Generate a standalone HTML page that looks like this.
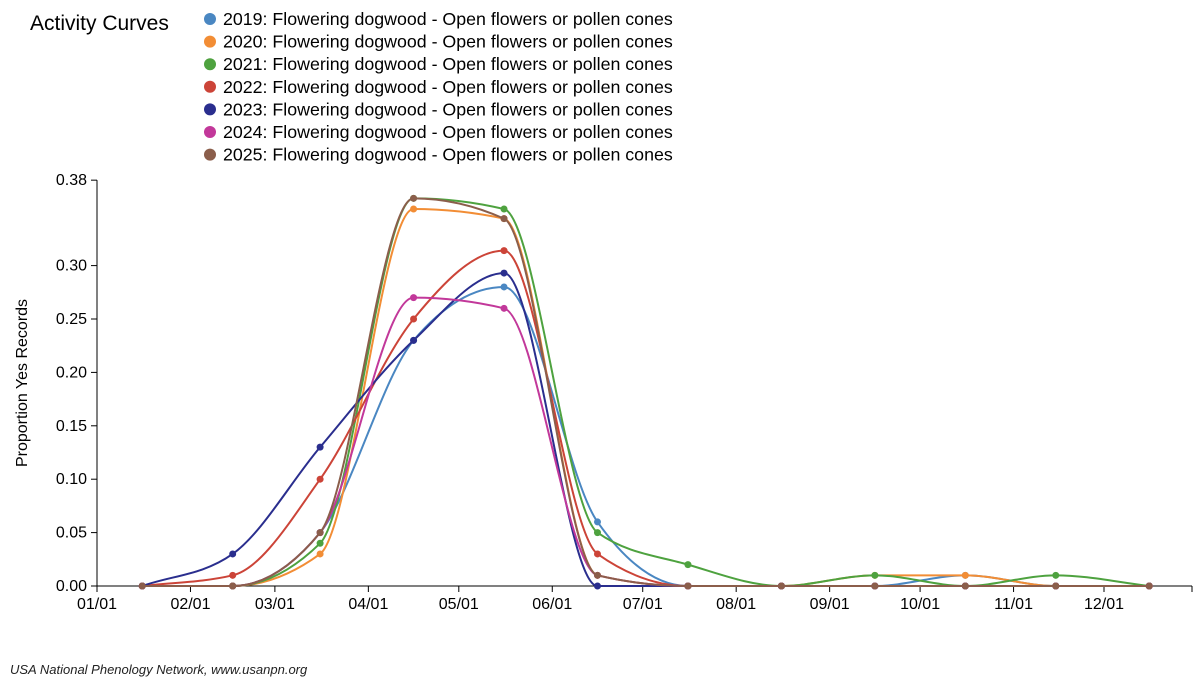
<!DOCTYPE html>
<html><head><meta charset="utf-8"><style>
body{margin:0;background:#fff;font-family:"Liberation Sans",Arial,sans-serif}
svg text{font-family:"Liberation Sans",Arial,sans-serif}
</style></head><body>
<svg width="1200" height="683">
<text x="30" y="30" font-size="21" fill="#000">Activity Curves</text>
<g id="legend"></g>
<g id="axes"></g>
<g id="series"></g>
<text transform="translate(27,383) rotate(-90)" text-anchor="middle" font-size="16">Proportion Yes Records</text>
<text x="10" y="674" font-size="13" font-style="italic" fill="#222">USA National Phenology Network, www.usanpn.org</text>
</svg>
<script>
const years=["2019","2020","2021","2022","2023","2024","2025"];
const colors=["#4a87c2","#f28d35","#4ea23f","#cc4438","#2a2e8e","#c2389a","#8b5e4b"];
const pointDays=[15,45,74,105,135,166,196,227,258,288,318,349];
const v2019=[0,0,0.05,0.23,0.28,0.06,0,0,0,0.01,0,0];
const v2020=[0,0,0.03,0.353,0.344,0.01,0,0,0.01,0.01,0,0];
const v2021=[0,0,0.04,0.363,0.353,0.05,0.02,0,0.01,0,0.01,0];
const v2022=[0,0.01,0.10,0.25,0.314,0.03,0,0,0,0,0,0];
const v2023=[0,0.03,0.13,0.23,0.293,0,0,0,0,0,0,0];
const v2024=[0,0,0.05,0.27,0.26,0.01,0,0,0,0,0,0];
const v2025=[0,0,0.05,0.363,0.344,0.01,0,0,0,0,0,0];
const seriesVals=[v2019,v2020,v2021,v2022,v2023,v2024,v2025];
const yTicks=[0,0.05,0.10,0.15,0.20,0.25,0.30,0.38];
const xTickLabels=["01/01","02/01","03/01","04/01","05/01","06/01","07/01","08/01","09/01","10/01","11/01","12/01"];
const xTickDays=[0,31,59,90,120,151,181,212,243,273,304,334];
const NS="http://www.w3.org/2000/svg";
const X0=97,KX=3.015,Y0=586,KY=1068;
const xs=d=>X0+d*KX, ys=v=>Y0-v*KY;
function mk(tag,attrs,parent){const e=document.createElementNS(NS,tag);for(const k in attrs)e.setAttribute(k,attrs[k]);parent.appendChild(e);return e;}
const ax=document.getElementById('axes');
let l=mk('line',{x1:X0,x2:1192,y1:Y0,y2:Y0,stroke:'#000'},ax);


l=mk('line',{x1:X0,x2:X0,y1:ys(0.38),y2:Y0,stroke:'#000'},ax);


xTickDays.forEach((d,i)=>{
 const t=mk('line',{x1:xs(d),x2:xs(d),y1:Y0,y2:Y0+6,stroke:'#000'},ax);
 
 
 const tx=mk('text',{x:xs(d),y:Y0+23,'text-anchor':'middle','font-size':16},ax);tx.textContent=xTickLabels[i];
 
 
});
mk('line',{x1:1192,x2:1192,y1:Y0,y2:Y0+6,stroke:'#000'},ax);
yTicks.forEach(v=>{
 const t=mk('line',{x1:X0-6,x2:X0,y1:ys(v),y2:ys(v),stroke:'#000'},ax);
 
 
 const tx=mk('text',{x:X0-10,y:ys(v)+5,'text-anchor':'end','font-size':16},ax);tx.textContent=v.toFixed(2);
 
 
});
function monotone(p){const n=p.length,dx=[],s=[],m=[];
 for(let i=0;i<n-1;i++){dx[i]=p[i+1][0]-p[i][0];s[i]=(p[i+1][1]-p[i][1])/dx[i];}
 for(let i=0;i<n;i++){if(i==0)m[i]=s[0];else if(i==n-1)m[i]=s[n-2];else{
  if(s[i-1]*s[i]<=0)m[i]=0;else{const h0=dx[i-1],h1=dx[i],pp=(s[i-1]*h1+s[i]*h0)/(h0+h1);
  m[i]=(Math.sign(s[i-1])+Math.sign(s[i]))*Math.min(Math.abs(s[i-1]),Math.abs(s[i]),0.5*Math.abs(pp));}}}
 let d=`M${p[0][0]},${p[0][1]}`;
 for(let i=0;i<n-1;i++){const h=dx[i]/3;d+=`C${p[i][0]+h},${p[i][1]+h*m[i]} ${p[i+1][0]-h},${p[i+1][1]-h*m[i+1]} ${p[i+1][0]},${p[i+1][1]}`;}
 return d;}
const sg=document.getElementById('series'),lg=document.getElementById('legend');
years.forEach((y,i)=>{
 const g=mk('g',{},sg);
 
 
 const pts=pointDays.map((d,j)=>[xs(d),ys(seriesVals[i][j])]);
 const p=mk('path',{d:monotone(pts),fill:'none',stroke:colors[i],'stroke-width':2},g);
 
 
 pts.forEach(q=>{const c=mk('circle',{cx:q[0],cy:q[1],r:3.5,fill:colors[i]},g);
  
  });
 const le=mk('g',{},lg);
 
 
 mk('circle',{cx:210,cy:19+i*22.6,r:6,fill:colors[i]},le);
 const t=mk('text',{x:223,y:25+i*22.6,'font-size':17.8},le);t.textContent=y+": Flowering dogwood - Open flowers or pollen cones";
});
</script>
</body></html>
